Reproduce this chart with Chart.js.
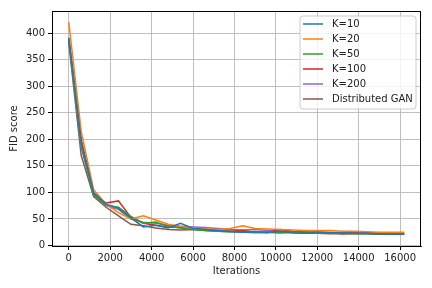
<!DOCTYPE html>
<html><head><meta charset="utf-8">
<script src="https://cdn.jsdelivr.net/npm/chart.js@4/dist/chart.umd.min.js"></script>
<style>html,body{margin:0;padding:0;background:#fff}#wrap{width:432px;height:288px}</style>
</head><body><div id="wrap"><canvas id="c" width="432" height="288"></canvas></div>
<script>
const iterations = [0,600,1200,1800,2400,3000,3600,4200,4800,5400,6000,6600,7200,7800,8400,9000,9600,10200,10800,11400,12000,12600,13200,13800,14400,15000,15600,16200];
const k10  = [392,195,100,78,70,52,35,38,33,42,32,30,28,27,25,26,25,27,24,23,25,24,24,23,23,22,21,21];
const k20  = [421,215,105,78,62,50,56,48,40,36,32,31,30,32,37,32,31,30,29,28,28,28,27,27,26,25,25,25];
const k50  = [390,190,95,76,72,55,42,44,36,33,30,28,27,26,25,24,25,24,26,24,23,23,23,22,22,22,22,22];
const k100 = [388,200,98,80,84,53,42,38,35,34,31,30,28,27,28,25,24,30,27,25,25,24,22,23,23,22,22,22];
const k200 = [387,185,96,75,68,50,44,42,38,36,35,34,32,30,29,30,28,27,26,26,25,25,24,24,24,23,23,23];
const distGAN = [383,170,92,72,56,40,37,33,30,29,30,28,27,26,26,25,25,24,24,23,23,22,22,22,22,21,21,21];
const seriesLabels = ['K=10','K=20','K=50','K=100','K=200','Distributed GAN'];
const seriesValues = [k10,k20,k50,k100,k200,distGAN];
const colors = ['#1f77b4','#ff7f0e','#2ca02c','#d62728','#9467bd','#8c564b'];
const xTicks = [0,2000,4000,6000,8000,10000,12000,14000,16000];
const yTicks = [0,50,100,150,200,250,300,350,400];

const FONT = {family:'DejaVu Sans', size:10};
const TXT = '#222';

const datasets = seriesValues.map((vals,i)=>({
  label: seriesLabels[i],
  data: iterations.map((x,j)=>({x:x,y:vals[j]})),
  borderColor: colors[i],
  backgroundColor: colors[i],
  borderWidth: 1.5,
  pointRadius: 0,
  tension: 0,
  fill: false
}));

const framePlugin = {
  id:'frame',
  afterDraw(chart){
    const {ctx, chartArea:a} = chart;
    ctx.save();
    ctx.strokeStyle='#000'; ctx.lineWidth=1;
    ctx.beginPath();
    ctx.moveTo(a.left, a.top+0.5); ctx.lineTo(a.right, a.top+0.5);
    ctx.moveTo(a.right-0.5, a.top); ctx.lineTo(a.right-0.5, a.bottom);
    ctx.stroke();
    // legend
    const lx=300, ly=16, lw=116, lh=93, r=3;
    ctx.beginPath();
    ctx.moveTo(lx+r,ly); ctx.lineTo(lx+lw-r,ly); ctx.quadraticCurveTo(lx+lw,ly,lx+lw,ly+r);
    ctx.lineTo(lx+lw,ly+lh-r); ctx.quadraticCurveTo(lx+lw,ly+lh,lx+lw-r,ly+lh);
    ctx.lineTo(lx+r,ly+lh); ctx.quadraticCurveTo(lx,ly+lh,lx,ly+lh-r);
    ctx.lineTo(lx,ly+r); ctx.quadraticCurveTo(lx,ly,lx+r,ly);
    ctx.closePath();
    ctx.fillStyle='rgba(255,255,255,0.8)'; ctx.fill();
    ctx.strokeStyle='#cccccc'; ctx.lineWidth=1; ctx.stroke();
    ctx.font='10px "DejaVu Sans"'; ctx.textBaseline='middle'; ctx.textAlign='left';
    chart.data.datasets.forEach((d,i)=>{
      const y = 24 + i*15;
      ctx.strokeStyle=d.borderColor; ctx.lineWidth=1.5;
      ctx.beginPath(); ctx.moveTo(303,y); ctx.lineTo(323,y); ctx.stroke();
      ctx.fillStyle=TXT; ctx.fillText(d.label, 332, y);
    });
    ctx.restore();
  }
};

new Chart(document.getElementById('c'), {
  type:'line',
  data:{datasets},
  options:{
    responsive:false, devicePixelRatio:1, animation:false,
    layout:{padding:{top:11,right:11,left:0,bottom:0}},
    plugins:{legend:{display:false}, tooltip:{enabled:false}},
    scales:{
      x:{type:'linear', position:'bottom', min:-810, max:17010,
        afterBuildTicks:s=>{s.ticks=xTicks.map(v=>({value:v}));},
        afterFit:s=>{s.height=42;},
        grid:{color:'#b0b0b0', lineWidth:0.8, tickLength:4, tickColor:'#000', tickWidth:1},
        border:{color:'#000', width:1},
        ticks:{font:FONT, color:TXT, padding:2, maxRotation:0, autoSkip:false, callback:v=>String(v)},
        title:{display:true, text:'Iterations', font:FONT, color:TXT, padding:{top:0,bottom:11}}
      },
      y:{type:'linear', position:'left', min:-1, max:442,
        afterBuildTicks:s=>{s.ticks=yTicks.map(v=>({value:v}));},
        afterFit:s=>{s.width=52;},
        grid:{color:'#b0b0b0', lineWidth:0.8, tickLength:4, tickColor:'#000', tickWidth:1},
        border:{color:'#000', width:1},
        ticks:{font:FONT, color:TXT, padding:3, autoSkip:false, callback:v=>String(v)},
        title:{display:true, text:'FID score', font:FONT, color:TXT, padding:{top:8,bottom:0}}
      }
    }
  },
  plugins:[framePlugin]
});
</script>
</body></html>
